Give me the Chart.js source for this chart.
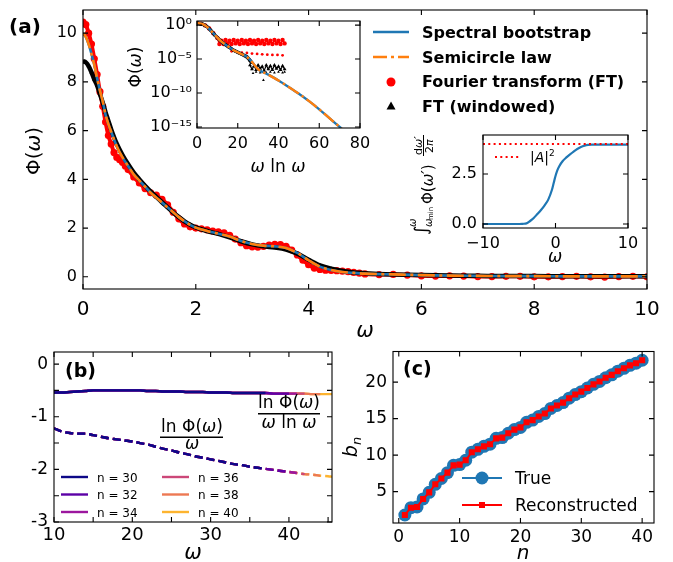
<!DOCTYPE html>
<html>
<head>
<meta charset="utf-8">
<script src="https://cdn.jsdelivr.net/npm/chart.js@4.4.1/dist/chart.umd.min.js"></script>
<style>
  html, body { margin: 0; padding: 0; background: #fff; }
  #wrap { position: relative; width: 673px; height: 562px; overflow: hidden; background: #fff; }
  #wrap canvas { position: absolute; }
</style>
</head>
<body>
<div id="wrap"></div>
<script>
// ---- panel (a): main curves ----
const omegaA = [0, 0.05, 0.1, 0.15, 0.2, 0.25, 0.3, 0.35, 0.4, 0.45, 0.5,
  0.6, 0.7, 0.8, 0.9, 1.0, 1.1, 1.2, 1.3, 1.4, 1.5, 1.6, 1.7, 1.8, 1.9, 2.0,
  2.2, 2.4, 2.6, 2.8, 3.0, 3.2, 3.4, 3.6, 3.8, 4.0, 4.2, 4.4, 4.6, 4.8, 5.0,
  5.5, 6.0, 6.5, 7.0, 7.5, 8.0, 8.5, 9.0, 9.5, 10.0];
const semicirclePhi = [10.0, 9.85, 9.55, 9.15, 8.7, 8.15, 7.65, 7.2, 6.65, 6.27, 5.95,
  5.35, 4.9, 4.55, 4.2, 3.95, 3.7, 3.45, 3.25, 3.05, 2.85, 2.65, 2.45, 2.28, 2.13, 2.02,
  1.88, 1.77, 1.65, 1.47, 1.35, 1.28, 1.25, 1.18, 0.98, 0.68, 0.42, 0.28, 0.2, 0.16, 0.13,
  0.1, 0.07, 0.05, 0.04, 0.03, 0.03, 0.02, 0.02, 0.02, 0.02];
const bootstrapPhi = [10.0, 9.85, 9.55, 9.15, 8.7, 8.15, 7.65, 7.2, 6.65, 6.27, 5.95,
  5.35, 4.9, 4.55, 4.2, 3.95, 3.7, 3.45, 3.25, 3.05, 2.85, 2.65, 2.45, 2.28, 2.13, 2.02,
  1.88, 1.77, 1.65, 1.47, 1.35, 1.28, 1.25, 1.18, 0.98, 0.68, 0.42, 0.28, 0.2, 0.16, 0.13,
  0.1, 0.07, 0.05, 0.04, 0.03, 0.03, 0.02, 0.02, 0.02, 0.02];
const windowedPhi = [8.85, 8.8, 8.65, 8.4, 8.1, 7.85, 7.5, 7.15, 6.75, 6.4, 6.05,
  5.45, 5.0, 4.62, 4.28, 4.0, 3.74, 3.5, 3.28, 3.06, 2.85, 2.64, 2.45, 2.28, 2.14, 2.03,
  1.88, 1.76, 1.62, 1.46, 1.33, 1.25, 1.2, 1.12, 0.95, 0.7, 0.47, 0.33, 0.24, 0.18, 0.15,
  0.1, 0.07, 0.05, 0.04, 0.03, 0.03, 0.02, 0.02, 0.02, 0.02];
const omegaFT = [0, 0.05, 0.1, 0.15, 0.2, 0.25, 0.3, 0.35, 0.4, 0.45, 0.5, 0.55, 0.6, 0.65, 0.7, 0.75, 0.8,
  0.9, 1.0, 1.1, 1.2, 1.3, 1.4, 1.5, 1.6, 1.7, 1.8, 1.9, 2.0, 2.1, 2.2, 2.3, 2.4, 2.5, 2.6, 2.7, 2.8, 2.9,
  3.0, 3.1, 3.2, 3.3, 3.4, 3.5, 3.6, 3.7, 3.8, 3.9, 4.0, 4.1, 4.2, 4.3, 4.4, 4.5, 4.6, 4.7, 4.8, 4.9, 5.0,
  5.25, 5.5, 5.75, 6.0, 6.25, 6.5, 6.75, 7.0, 7.25, 7.5, 7.75, 8.0, 8.25, 8.5, 8.75, 9.0, 9.25, 9.5, 9.75, 10.0];
const ftPhi = [10.45, 10.35, 10.0, 9.55, 8.95, 8.3, 7.6, 7.0, 6.35, 5.8, 5.45, 5.1, 4.9, 4.8, 4.7, 4.55, 4.4,
  4.1, 3.85, 3.62, 3.45, 3.35, 3.18, 2.95, 2.65, 2.38, 2.17, 2.05, 2.0, 1.97, 1.93, 1.88, 1.85, 1.8, 1.7, 1.55, 1.4, 1.28,
  1.23, 1.22, 1.25, 1.3, 1.33, 1.32, 1.25, 1.1, 0.9, 0.68, 0.5, 0.36, 0.3, 0.27, 0.26, 0.25, 0.23, 0.21, 0.18, 0.15, 0.12,
  0.09, 0.1, 0.07, 0.04, 0.03, 0.04, 0.03, 0.01, 0.01, 0.02, 0.02, 0.0, 0.0, 0.01, 0.02, 0.0, -0.01, 0.01, 0.02, 0.0];
const xTicksA = [0, 2, 4, 6, 8, 10];
const yTicksA = [0, 2, 4, 6, 8, 10];

// ---- inset: log scale vs omega ln omega (values stored as log10) ----
const insetX = [0, 2, 4, 6, 8, 10, 12, 14, 16, 18, 20, 22, 24, 26, 28, 30, 35, 40, 45, 50, 55, 60, 65, 70, 75];
const semicircleLog10 = [0.3, 0.2, -0.05, -0.55, -1.2, -1.85, -2.45, -2.9, -3.3, -3.7, -4.0, -4.3, -4.6, -5.1, -5.8,
  -6.5, -7.3, -8.15, -9.1, -10.1, -11.2, -12.4, -13.7, -15.0, -16.4];
const bootstrapLog10 = [0.3, 0.2, -0.05, -0.55, -1.2, -1.85, -2.45, -2.9, -3.3, -3.7, -4.0, -4.3, -4.6, -5.1, -5.8,
  -6.5, -7.3, -8.15, -9.1, -10.1, -11.2, -12.4, -13.7, -15.0, -16.4];
const windowedInsetX = [0, 1, 2, 3, 4, 5, 6, 7, 8, 9, 10, 11, 12, 13, 14, 15, 16, 17, 18, 19, 20, 21, 22, 23, 24, 25, 26, 27];
const windowedInsetLog10 = [0.3, 0.25, 0.2, 0.1, -0.05, -0.25, -0.55, -0.85, -1.2, -1.55, -1.85, -2.15, -2.45, -2.7,
  -2.9, -3.1, -3.3, -3.5, -3.7, -3.85, -4.0, -4.15, -4.3, -4.45, -4.6, -4.85, -5.2, -5.6];
const windowedNoiseX = [26, 27, 28, 29, 30, 31, 32, 33, 34, 35, 36, 37, 38, 39, 40, 41, 42, 43];
const windowedNoiseLog10 = [-5.9, -6.5, -6.0, -6.6, -5.9, -6.4, -6.1, -6.7, -5.9, -6.5, -6.0, -6.6, -5.9, -6.4, -6.1, -6.6, -6.0, -6.5];
const windowedLowX = [27.5, 29, 31, 32.6, 34, 36, 38, 40, 42, 43];
const windowedLowLog10 = [-7.1, -6.9, -7.0, -8.1, -7.0, -6.9, -7.0, -6.9, -7.0, -6.9];
const ftInsetX = [0, 2, 4, 6, 8, 10, 11, 12, 13, 14, 15, 16, 17, 18, 19, 20, 21, 22, 23, 24, 25, 26, 27,
  28, 29, 30, 31, 32, 33, 34, 35, 36, 37, 38, 39, 40, 41, 42, 43];
const ftInsetLog10 = [0.3, 0.2, -0.05, -0.5, -1.2, -1.9, -2.8, -2.3, -2.8, -2.2, -2.7, -2.3, -2.8, -2.2, -2.7,
  -2.3, -2.8, -2.2, -2.7, -2.3, -2.8, -2.2, -2.7, -2.3, -2.8, -2.2, -2.7, -2.3, -2.8, -2.2, -2.7, -2.3, -2.8,
  -2.2, -2.7, -2.3, -2.8, -2.2, -2.7];
const ftSparseX = [17, 19.5, 22, 24.5, 27, 29.5, 32, 34.5, 37, 39.5, 42];
const ftSparseLog10 = [-3.85, -3.95, -4.05, -4.1, -4.2, -4.25, -4.3, -4.35, -4.4, -4.4, -4.45];
const insetXTicks = [0, 20, 40, 60, 80];
const insetYTicks = [1, 1e-5, 1e-10, 1e-15];
const insetYLabels = { 1: "10\u2070", 1e-5: "10\u207b\u2075", 1e-10: "10\u207b\u00b9\u2070", 1e-15: "10\u207b\u00b9\u2075" };

// ---- inset: cumulative integral ----
const cumOmega = [-10, -8, -6, -5, -4.5, -4, -3.5, -3, -2.5, -2, -1.5, -1, -0.5, -0.25, 0, 0.25, 0.5, 1, 1.5,
  2, 2.5, 3, 3.5, 4, 4.5, 5, 6, 8, 10];
const cumIntegral = [0, 0, 0, 0, 0.01, 0.03, 0.15, 0.3, 0.5, 0.7, 0.93, 1.22, 1.7, 2.05, 2.4, 2.68, 2.88, 3.15, 3.33,
  3.48, 3.62, 3.75, 3.85, 3.92, 3.96, 3.97, 3.97, 3.97, 3.97];
const aSquaredX = [-10, 10];
const aSquared = [4, 4];

// ---- panel (b) ----
const omegaB = [10, 11, 12, 13, 14, 15, 16, 17, 18, 19, 20, 21, 22, 23, 24, 25, 26, 27, 28, 29,
  30, 31, 32, 33, 34, 35, 36, 37, 38, 39, 40, 41, 42, 43, 44, 45, 45.5];
const lnPhiOverOmegaLnOmega = [-0.54, -0.54, -0.53, -0.52, -0.51, -0.5, -0.5, -0.5, -0.5, -0.5, -0.5, -0.5,
  -0.51, -0.51, -0.52, -0.52, -0.52, -0.53, -0.53, -0.53, -0.54, -0.54, -0.54, -0.55, -0.55, -0.55, -0.55,
  -0.55, -0.56, -0.56, -0.56, -0.56, -0.56, -0.57, -0.57, -0.57, -0.57];
const lnPhiOverOmega = [-1.22, -1.28, -1.31, -1.32, -1.32, -1.35, -1.38, -1.41, -1.43, -1.45, -1.47, -1.5,
  -1.53, -1.57, -1.61, -1.64, -1.68, -1.71, -1.75, -1.78, -1.81, -1.84, -1.87, -1.9, -1.92, -1.95, -1.97,
  -1.99, -2.01, -2.03, -2.05, -2.07, -2.09, -2.1, -2.12, -2.13, -2.14];
const nValues = [30, 32, 34, 36, 38, 40];
const nLastOmega = [37, 40, 41, 42, 44, 45.5];
const nColors = ["#0d0887", "#5c01a6", "#9c179e", "#cc4778", "#ed7953", "#fdb42f"];

// ---- panel (c) ----
const nIndex = [1, 2, 3, 4, 5, 6, 7, 8, 9, 10, 11, 12, 13, 14, 15, 16, 17, 18, 19, 20,
  21, 22, 23, 24, 25, 26, 27, 28, 29, 30, 31, 32, 33, 34, 35, 36, 37, 38, 39, 40];
const bnTrue = [1.8, 2.8, 2.9, 4.0, 4.9, 6.0, 6.8, 7.6, 8.6, 8.7, 9.3, 10.4, 10.8, 11.2, 11.5, 12.3, 12.4,
  13.0, 13.5, 13.8, 14.5, 14.8, 15.3, 15.7, 16.4, 16.8, 17.2, 17.8, 18.3, 18.7, 19.2, 19.7, 20.1, 20.6,
  21.0, 21.5, 21.9, 22.3, 22.6, 23.0];
const bnReconstructed = [1.8, 2.8, 2.9, 4.0, 4.9, 6.0, 6.8, 7.6, 8.6, 8.7, 9.3, 10.4, 10.8, 11.2, 11.5, 12.3, 12.4,
  13.0, 13.5, 13.8, 14.5, 14.8, 15.3, 15.7, 16.4, 16.8, 17.2, 17.8, 18.3, 18.7, 19.2, 19.7, 20.1, 20.6,
  21.0, 21.5, 21.9, 22.3, 22.6, 23.0];

const FAM = '"DejaVu Sans", sans-serif';
const BLUE = "#1f77b4", ORANGE = "#ff7f0e", RED = "#ff0000";

Chart.defaults.color = "#000";
Chart.defaults.font.family = FAM;

function fnt(size, style) {
  return (style || "") + " " + size + "px " + FAM;
}

function pts(xs, ys) {
  return xs.map((x, i) => ({ x: x, y: ys[i] }));
}

function pow10(arr) {
  return arr.map((v) => Math.pow(10, v));
}

// draws pieces of text one after another: [text, font, dy]
function rich(ctx, x, y, parts, rotate, align) {
  ctx.save();
  ctx.translate(x, y);
  if (rotate) ctx.rotate(-Math.PI / 2);
  ctx.textAlign = "left";
  ctx.textBaseline = "alphabetic";
  ctx.fillStyle = "#000";
  let w = 0;
  parts.forEach((p) => { ctx.font = p[1]; w += ctx.measureText(p[0]).width; });
  let cx = align === "left" ? 0 : -w / 2;
  parts.forEach((p) => {
    ctx.font = p[1];
    ctx.fillText(p[0], cx, p[2] || 0);
    cx += ctx.measureText(p[0]).width;
  });
  ctx.restore();
}

function axis(o) {
  return {
    type: o.type || "linear",
    min: o.min,
    max: o.max,
    bounds: "data",
    grid: { display: false, drawTicks: false },
    border: { display: false },
    ticks: {
      padding: o.pad,
      font: { size: o.size, family: FAM },
      color: "#000",
      autoSkip: false,
      maxRotation: 0,
      callback: o.fmt || ((v) => String(v)),
    },
    afterBuildTicks: (s) => { s.ticks = o.ticks.map((v) => ({ value: v })); },
    afterFit: (s) => {
      if (o.w != null) s.width = o.w;
      if (o.h != null) s.height = o.h;
      s.paddingLeft = 0; s.paddingRight = 0; s.paddingTop = 0; s.paddingBottom = 0;
    },
  };
}

// box with inward ticks on all four sides, like the matplotlib figure
const frameTicks = {
  id: "frameTicks",
  afterDraw(chart) {
    const ctx = chart.ctx, a = chart.chartArea, len = 5;
    const xs = chart.scales.x, ys = chart.scales.y;
    ctx.save();
    ctx.strokeStyle = "#000";
    ctx.lineWidth = 1.1;
    ctx.strokeRect(a.left, a.top, a.right - a.left, a.bottom - a.top);
    ctx.beginPath();
    xs.ticks.forEach((t) => {
      const p = xs.getPixelForValue(t.value);
      if (p < a.left - 0.5 || p > a.right + 0.5) return;
      ctx.moveTo(p, a.bottom); ctx.lineTo(p, a.bottom - len);
      ctx.moveTo(p, a.top); ctx.lineTo(p, a.top + len);
    });
    ys.ticks.forEach((t) => {
      const p = ys.getPixelForValue(t.value);
      if (p < a.top - 0.5 || p > a.bottom + 0.5) return;
      ctx.moveTo(a.left, p); ctx.lineTo(a.left + len, p);
      ctx.moveTo(a.right, p); ctx.lineTo(a.right - len, p);
    });
    ctx.stroke();
    ctx.restore();
  },
};

function makeChart(box, datasets, scales, draw) {
  const c = document.createElement("canvas");
  c.width = box.w; c.height = box.h;
  c.style.left = box.left + "px"; c.style.top = box.top + "px";
  c.style.width = box.w + "px"; c.style.height = box.h + "px";
  document.getElementById("wrap").appendChild(c);
  return new Chart(c, {
    type: "scatter",
    data: { datasets: datasets },
    options: {
      responsive: false,
      animation: false,
      devicePixelRatio: 1,
      events: [],
      layout: { padding: { left: 0, top: box.pt, right: box.pr, bottom: 0 } },
      plugins: { legend: { display: false }, tooltip: { enabled: false } },
      scales: scales,
    },
    plugins: [frameTicks, {
      id: "extraText",
      afterDraw(chart) {
        const ctx = chart.ctx;
        ctx.save();
        ctx.translate(-box.left, -box.top);
        draw(ctx);
        ctx.restore();
      },
    }],
  });
}

function lineSet(data, color, width, extra) {
  return Object.assign({
    data: data, showLine: true, borderColor: color, borderWidth: width,
    pointRadius: 0, cubicInterpolationMode: "monotone", fill: false,
  }, extra || {});
}

// ================= panel (a) main =================
makeChart({ left: 0, top: 0, w: 673, h: 345, pt: 10, pr: 26 }, [
  lineSet(pts(omegaA, semicirclePhi), ORANGE, 2.6, { borderDash: [17, 4.5, 3, 4.5], order: 1 }),
  lineSet(pts(omegaA, bootstrapPhi), BLUE, 2.6, { order: 2 }),
  lineSet(pts(omegaA, windowedPhi), "#000", 4.5, {
    order: 3, pointStyle: "triangle", pointRadius: 2.5, pointBackgroundColor: "#000", pointBorderWidth: 0,
  }),
  lineSet(pts(omegaFT, ftPhi), RED, 4, {
    order: 4, pointRadius: 3.6, pointBackgroundColor: RED, pointBorderWidth: 0,
  }),
], {
  x: axis({ min: 0, max: 10, ticks: xTicksA, size: 20, pad: 9, h: 345 - 289 }),
  y: axis({ min: -0.5, max: 10.95, ticks: yTicksA, size: 16, pad: 6, w: 83 }),
}, (ctx) => {
  rich(ctx, 365, 337, [["\u03c9", fnt(21, "italic")]]);
  rich(ctx, 40, 151, [["\u03a6(", fnt(20)], ["\u03c9", fnt(20, "italic")], [")", fnt(20)]], true);
  rich(ctx, 9, 33, [["(a)", fnt(20, "bold")]], false, "left");
  // legend
  ctx.save();
  ctx.lineWidth = 2.5;
  ctx.strokeStyle = BLUE;
  ctx.beginPath(); ctx.moveTo(373, 32); ctx.lineTo(409, 32); ctx.stroke();
  ctx.strokeStyle = ORANGE;
  ctx.setLineDash([14, 4, 3, 4]);
  ctx.beginPath(); ctx.moveTo(373, 57); ctx.lineTo(409, 57); ctx.stroke();
  ctx.setLineDash([]);
  ctx.fillStyle = RED;
  ctx.beginPath(); ctx.arc(391, 82, 4.5, 0, Math.PI * 2); ctx.fill();
  ctx.fillStyle = "#000";
  ctx.beginPath(); ctx.moveTo(391, 101.5); ctx.lineTo(395.5, 109.5); ctx.lineTo(386.5, 109.5); ctx.closePath(); ctx.fill();
  ctx.restore();
  const lf = fnt(16, "bold");
  rich(ctx, 422, 38, [["Spectral bootstrap", lf]], false, "left");
  rich(ctx, 422, 63, [["Semicircle law", lf]], false, "left");
  rich(ctx, 422, 87, [["Fourier transform (FT)", lf]], false, "left");
  rich(ctx, 422, 112, [["FT (windowed)", lf]], false, "left");
});

// ================= inset: log scale =================
makeChart({ left: 120, top: 0, w: 250, h: 180, pt: 21, pr: 10 }, [
  lineSet(pts(insetX, pow10(semicircleLog10)), ORANGE, 2.4, { borderDash: [13, 3.5, 2.5, 3.5], order: 1 }),
  lineSet(pts(insetX, pow10(bootstrapLog10)), BLUE, 2.4, { order: 2 }),
  lineSet(pts(windowedInsetX, pow10(windowedInsetLog10)), "#000", 3.5, {
    order: 3, pointStyle: "triangle", pointRadius: 2, pointBackgroundColor: "#000", pointBorderWidth: 0,
  }),
  lineSet(pts(windowedNoiseX, pow10(windowedNoiseLog10)), "#000", 1.2, {
    order: 4, cubicInterpolationMode: "default", pointStyle: "triangle", pointRadius: 2.2,
    pointBackgroundColor: "#000", pointBorderWidth: 0,
  }),
  { data: pts(windowedLowX, pow10(windowedLowLog10)), pointStyle: "triangle", pointRadius: 1.6,
    pointBackgroundColor: "#000", pointBorderWidth: 0, order: 5 },
  lineSet(pts(ftInsetX, pow10(ftInsetLog10)), RED, 1.5, {
    order: 6, cubicInterpolationMode: "default", pointRadius: 2.2, pointBackgroundColor: RED, pointBorderWidth: 0,
  }),
  { data: pts(ftSparseX, pow10(ftSparseLog10)), pointRadius: 1.4, pointBackgroundColor: RED,
    pointBorderWidth: 0, order: 7 },
], {
  x: axis({ min: 0, max: 80, ticks: insetXTicks, size: 16, pad: 6, h: 180 - 128 }),
  y: axis({ type: "logarithmic", min: Math.pow(10, -15.15), max: Math.pow(10, 0.6), ticks: insetYTicks,
    size: 16, pad: 5, w: 77, fmt: (v) => insetYLabels[v] || "" }),
}, (ctx) => {
  rich(ctx, 278, 172, [["\u03c9", fnt(17, "italic")], [" ln ", fnt(17)], ["\u03c9", fnt(17, "italic")]]);
  rich(ctx, 141, 67, [["\u03a6(", fnt(17)], ["\u03c9", fnt(17, "italic")], [")", fnt(17)]], true);
});

// ================= inset: cumulative integral =================
makeChart({ left: 395, top: 118, w: 250, h: 150, pt: 17, pr: 17 }, [
  lineSet(pts(aSquaredX, aSquared), RED, 2, { borderDash: [2, 3.3], order: 1, cubicInterpolationMode: "default" }),
  lineSet(pts(cumOmega, cumIntegral), BLUE, 2.2, { order: 2 }),
], {
  x: axis({ min: -10, max: 10, ticks: [-10, 0, 10], size: 16, pad: 6, h: 40,
    fmt: (v) => (v < 0 ? "\u2212" + Math.abs(v) : String(v)) }),
  y: axis({ min: -0.2, max: 4.45, ticks: [0, 2.5], size: 16, pad: 6, w: 88, fmt: (v) => v.toFixed(1) }),
}, (ctx) => {
  rich(ctx, 555, 262, [["\u03c9", fnt(17, "italic")]]);
  // legend |A|^2
  ctx.save();
  ctx.strokeStyle = RED; ctx.lineWidth = 2; ctx.setLineDash([2, 3.3]);
  ctx.beginPath(); ctx.moveTo(495, 157); ctx.lineTo(521, 157); ctx.stroke();
  ctx.restore();
  rich(ctx, 530, 162, [["|", fnt(14)], ["A", fnt(14, "italic")], ["|", fnt(14)], ["2", fnt(9), -6]], false, "left");
  // rotated y label: integral of Phi over 2 pi
  ctx.save();
  ctx.translate(433, 183);
  ctx.rotate(-Math.PI / 2);
  ctx.fillStyle = "#000";
  ctx.textBaseline = "alphabetic";
  ctx.font = fnt(18);
  ctx.fillText("\u222b", -52, -6);
  ctx.font = fnt(10, "italic");
  ctx.fillText("\u03c9", -44, -17);
  ctx.fillText("\u03c9", -44, -1);
  ctx.font = fnt(7);
  ctx.fillText("min", -37, 0);
  let x = -21;
  ctx.font = fnt(15); ctx.fillText("\u03a6(", x, 0); x += ctx.measureText("\u03a6(").width;
  ctx.font = fnt(15, "italic"); ctx.fillText("\u03c9\u2032", x, 0); x += ctx.measureText("\u03c9\u2032").width;
  ctx.font = fnt(15); ctx.fillText(")", x, 0);
  ctx.font = fnt(11); ctx.fillText("d", 28, -11);
  let dx = 28 + ctx.measureText("d").width;
  ctx.font = fnt(11, "italic"); ctx.fillText("\u03c9\u2032", dx, -11);
  ctx.fillRect(27, -10, 21, 1);
  ctx.font = fnt(11); ctx.fillText("2", 30, 0);
  ctx.font = fnt(11, "italic"); ctx.fillText("\u03c0", 30 + ctx.measureText("2").width, 0);
  ctx.restore();
});

// ================= panel (b) =================
const bSets = [];
nValues.forEach((n, i) => {
  const keep = omegaB.map((w) => w <= nLastOmega[i]);
  const xs = omegaB.filter((w, k) => keep[k]);
  bSets.push(lineSet(pts(xs, lnPhiOverOmegaLnOmega.filter((v, k) => keep[k])), nColors[i], 2.4, { order: 2 * i }));
  bSets.push(lineSet(pts(xs, lnPhiOverOmega.filter((v, k) => keep[k])), nColors[i], 2.4,
    { order: 2 * i + 1, borderDash: [8, 4] }));
});
makeChart({ left: 0, top: 345, w: 340, h: 217, pt: 7, pr: 8 }, bSets, {
  x: axis({ min: 10, max: 45.5, ticks: [10, 15, 20, 25, 30, 35, 40, 45], size: 18, pad: 3, h: 40,
    fmt: (v) => (v % 10 === 0 ? String(v) : "") }),
  y: axis({ min: -3, max: 0.23, ticks: [0, -0.5, -1, -1.5, -2, -2.5, -3], size: 17, pad: 6, w: 54,
    fmt: (v) => (Number.isInteger(v) ? (v < 0 ? "-" + Math.abs(v) : "0") : "") }),
}, (ctx) => {
  rich(ctx, 65, 377, [["(b)", fnt(19, "bold")]], false, "left");
  rich(ctx, 193, 559, [["\u03c9", fnt(21, "italic")]]);
  const f = fnt(17), fi = fnt(17, "italic");
  rich(ctx, 192, 432, [["ln \u03a6(", f], ["\u03c9", fi], [")", f]]);
  ctx.fillStyle = "#000";
  ctx.fillRect(160, 436.5, 63, 1.5);
  rich(ctx, 192, 449, [["\u03c9", fi]]);
  rich(ctx, 289, 408, [["ln \u03a6(", f], ["\u03c9", fi], [")", f]]);
  ctx.fillRect(258, 413, 62, 1.5);
  rich(ctx, 289, 428, [["\u03c9", fi], [" ln ", f], ["\u03c9", fi]]);
  // legend, two columns
  ctx.save();
  ctx.lineWidth = 2.4;
  nValues.forEach((n, i) => {
    const col = i < 3 ? 0 : 1, row = i % 3;
    const x0 = col ? 162 : 61, y0 = 477 + row * 17.5;
    ctx.strokeStyle = nColors[i];
    ctx.beginPath(); ctx.moveTo(x0, y0); ctx.lineTo(x0 + 27, y0); ctx.stroke();
    rich(ctx, x0 + 36, y0 + 4.5, [["n = " + n, fnt(12)]], false, "left");
  });
  ctx.restore();
});

// ================= panel (c) =================
makeChart({ left: 340, top: 345, w: 333, h: 217, pt: 4, pr: 19 }, [
  lineSet(pts(nIndex, bnReconstructed), RED, 2, {
    order: 1, cubicInterpolationMode: "default", pointStyle: "rect", pointRadius: 4.3,
    pointBackgroundColor: RED, pointBorderWidth: 0,
  }),
  lineSet(pts(nIndex, bnTrue), BLUE, 2, {
    order: 2, cubicInterpolationMode: "default", pointRadius: 6.5,
    pointBackgroundColor: BLUE, pointBorderWidth: 0,
  }),
], {
  x: axis({ min: -0.95, max: 41.95, ticks: [0, 10, 20, 30, 40], size: 17, pad: 4, h: 39 }),
  y: axis({ min: 0.7, max: 24.2, ticks: [5, 10, 15, 20], size: 17, pad: 6, w: 53 }),
}, (ctx) => {
  rich(ctx, 403, 375, [["(c)", fnt(19, "bold")]], false, "left");
  rich(ctx, 523, 559, [["n", fnt(20, "italic")]]);
  rich(ctx, 357, 447, [["b", fnt(19, "italic")], ["n", fnt(13, "italic"), 4]], true);
  ctx.save();
  ctx.lineWidth = 2;
  ctx.strokeStyle = BLUE; ctx.fillStyle = BLUE;
  ctx.beginPath(); ctx.moveTo(462, 478); ctx.lineTo(502, 478); ctx.stroke();
  ctx.beginPath(); ctx.arc(482, 478, 6.5, 0, Math.PI * 2); ctx.fill();
  ctx.strokeStyle = RED; ctx.fillStyle = RED;
  ctx.beginPath(); ctx.moveTo(462, 505); ctx.lineTo(502, 505); ctx.stroke();
  ctx.fillRect(479, 502, 6, 6);
  ctx.restore();
  rich(ctx, 515, 484, [["True", fnt(17)]], false, "left");
  rich(ctx, 515, 511, [["Reconstructed", fnt(17)]], false, "left");
});
</script>
</body>
</html>
